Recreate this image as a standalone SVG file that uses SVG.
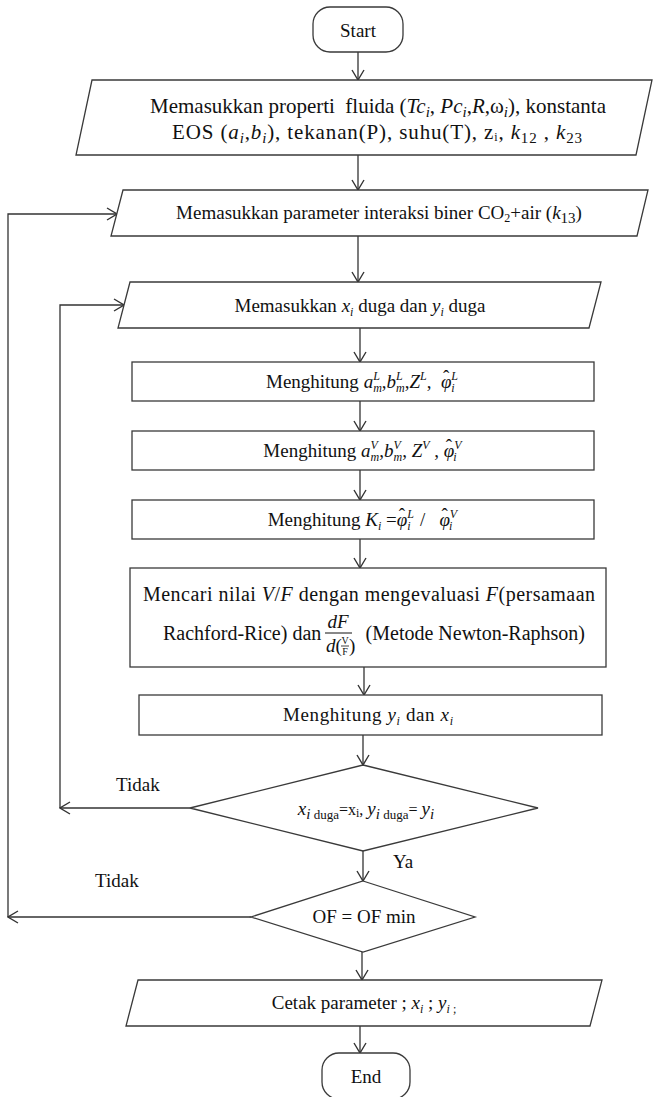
<svg xmlns="http://www.w3.org/2000/svg" width="653" height="1097" viewBox="0 0 653 1097">
<style>
.sh{fill:#fff;stroke:#3a3a3a;stroke-width:1.3}
.ln{fill:none;stroke:#333;stroke-width:1.3}
.t{font-family:"Liberation Serif","Times New Roman",serif;font-size:19px;fill:#111}
.i{font-style:italic}
.s{font-size:12px}
.sm{font-size:15px}
.xs{font-size:10px}
.f20{font-size:20px}
.f21{font-size:21px}
</style>
<defs>
<marker id="ah" markerUnits="userSpaceOnUse" markerWidth="12" markerHeight="14" viewBox="0 0 12 14" refX="11" refY="7" orient="auto">
<path d="M1,1 L11,7 L1,13" fill="none" stroke="#333" stroke-width="1.4"/>
</marker>
</defs>
<rect width="653" height="1097" fill="#fff"/>

<g id="connectors">
<line class="ln" x1="358" y1="52" x2="358" y2="80" marker-end="url(#ah)"/>
<line class="ln" x1="358" y1="155" x2="358" y2="190" marker-end="url(#ah)"/>
<line class="ln" x1="358" y1="236" x2="358" y2="282" marker-end="url(#ah)"/>
<line class="ln" x1="360" y1="328" x2="360" y2="362" marker-end="url(#ah)"/>
<line class="ln" x1="360" y1="401" x2="360" y2="431" marker-end="url(#ah)"/>
<line class="ln" x1="360" y1="470" x2="360" y2="500" marker-end="url(#ah)"/>
<line class="ln" x1="360" y1="539" x2="360" y2="568" marker-end="url(#ah)"/>
<line class="ln" x1="364" y1="667" x2="364" y2="695" marker-end="url(#ah)"/>
<line class="ln" x1="363" y1="735" x2="363" y2="765" marker-end="url(#ah)"/>
<line class="ln" x1="363" y1="851" x2="363" y2="881" marker-end="url(#ah)"/>
<line class="ln" x1="362" y1="952" x2="362" y2="980" marker-end="url(#ah)"/>
<line class="ln" x1="360" y1="1026" x2="360" y2="1053" marker-end="url(#ah)"/>
<polyline class="ln" points="190,808 60,808" marker-end="url(#ah)"/>
<polyline class="ln" points="60,808 60,305 124,305" marker-end="url(#ah)"/>
<polyline class="ln" points="251,917 8,917" marker-end="url(#ah)"/>
<polyline class="ln" points="8,917 8,214 117,214" marker-end="url(#ah)"/>
</g>

<g id="start">
<rect class="sh" x="313" y="7" width="90" height="45" rx="17"/>
<text class="t" x="358" y="37" text-anchor="middle">Start</text>
</g>

<g id="input1">
<polygon class="sh" points="92,80 652,80 636,155 76,155"/>
<text class="t f21" x="378" y="113" text-anchor="middle">Memasukkan properti&#160; fluida (<tspan class="i">Tc</tspan><tspan class="sm i" dy="4">i</tspan><tspan dy="-4">, </tspan><tspan class="i">Pc</tspan><tspan class="sm i" dy="4">i</tspan><tspan dy="-4">,</tspan><tspan class="i">R</tspan><tspan>,ω</tspan><tspan class="sm i" dy="4">i</tspan><tspan dy="-4">), konstanta</tspan></text>
<text class="t f21" x="377" y="139" text-anchor="middle" textLength="410" lengthAdjust="spacing">EOS (<tspan class="i">a</tspan><tspan class="sm i" dy="4">i</tspan><tspan dy="-4">,</tspan><tspan class="i">b</tspan><tspan class="sm i" dy="4">i</tspan><tspan dy="-4">), tekanan(P), suhu(T), z</tspan><tspan class="s" dy="2">i</tspan><tspan dy="-2">, </tspan><tspan class="i">k</tspan><tspan class="sm" dy="4">12</tspan><tspan dy="-4"> , </tspan><tspan class="i">k</tspan><tspan class="sm" dy="4">23</tspan></text>
</g>

<g id="input2">
<polygon class="sh" points="123,190 648,190 637,236 111,236"/>
<text class="t" x="379" y="219" text-anchor="middle" font-size="18">Memasukkan parameter interaksi biner CO<tspan class="s" dy="3">2</tspan><tspan dy="-3">+air (</tspan><tspan class="i">k</tspan><tspan class="sm" dy="4">13</tspan><tspan dy="-4">)</tspan></text>
</g>

<g id="input3">
<polygon class="sh" points="130,282 601,282 589,328 118,328"/>
<text class="t" x="360" y="312" text-anchor="middle" font-size="18">Memasukkan <tspan class="i">x</tspan><tspan class="s i" dy="4">i</tspan><tspan dy="-4"> duga dan </tspan><tspan class="i">y</tspan><tspan class="s i" dy="4">i</tspan><tspan dy="-4"> duga</tspan></text>
</g>

<g id="calc-liquid">
<rect class="sh" x="132" y="362" width="462" height="39"/>
<text class="t" x="362" y="388" text-anchor="middle">Menghitung <tspan class="i">a</tspan><tspan class="s i" dy="-8">L</tspan><tspan class="s i" dx="-6.7" dy="12">m</tspan><tspan dy="-4">,</tspan><tspan class="i">b</tspan><tspan class="s i" dy="-8">L</tspan><tspan class="s i" dx="-6.7" dy="12">m</tspan><tspan dy="-4">,</tspan><tspan class="i">Z</tspan><tspan class="s i" dy="-8">L</tspan><tspan dy="8">,&#160; </tspan><tspan class="i">φ</tspan><tspan dx="-8.5" dy="-5">ˆ</tspan><tspan class="s i" dx="2" dy="-3">L</tspan><tspan class="s i" dx="-6.7" dy="12">i</tspan></text>
</g>

<g id="calc-vapor">
<rect class="sh" x="132" y="431" width="462" height="39"/>
<text class="t" x="362" y="457" text-anchor="middle">Menghitung <tspan class="i">a</tspan><tspan class="s i" dy="-8">V</tspan><tspan class="s i" dx="-7.3" dy="12">m</tspan><tspan dy="-4">,</tspan><tspan class="i">b</tspan><tspan class="s i" dy="-8">V</tspan><tspan class="s i" dx="-7.3" dy="12">m</tspan><tspan dy="-4">, </tspan><tspan class="i">Z</tspan><tspan class="s i" dy="-8">V</tspan><tspan dy="8"> , </tspan><tspan class="i">φ</tspan><tspan dx="-8.5" dy="-5">ˆ</tspan><tspan class="s i" dx="2" dy="-3">V</tspan><tspan class="s i" dx="-7.3" dy="12">i</tspan></text>
</g>

<g id="calc-k">
<rect class="sh" x="132" y="500" width="462" height="39"/>
<text class="t" x="362" y="526" text-anchor="middle">Menghitung <tspan class="i">K</tspan><tspan class="s i" dy="4">i</tspan><tspan dy="-4"> =</tspan><tspan class="i">φ</tspan><tspan dx="-8.5" dy="-5">ˆ</tspan><tspan class="s i" dx="2" dy="-3">L</tspan><tspan class="s i" dx="-6.7" dy="12">i</tspan><tspan dy="-4">&#160; /&#160;&#160; </tspan><tspan class="i">φ</tspan><tspan dx="-8.5" dy="-5">ˆ</tspan><tspan class="s i" dx="2" dy="-3">V</tspan><tspan class="s i" dx="-7.3" dy="12">i</tspan></text>
</g>

<g id="rachford-rice">
<rect class="sh" x="130" y="568" width="476" height="99"/>
<text class="t f20" x="369" y="601" text-anchor="middle" textLength="452" lengthAdjust="spacing">Mencari nilai <tspan class="i">V</tspan>/<tspan class="i">F</tspan> dengan mengevaluasi <tspan class="i">F</tspan>(persamaan</text>
<text class="t f20" x="163" y="640">Rachford-Rice) dan</text>
<text class="t i" x="338" y="628" text-anchor="middle" font-size="17">dF</text>
<line x1="325" y1="633" x2="352" y2="633" stroke="#111" stroke-width="1"/>
<text class="t" x="326" y="652" font-size="17"><tspan class="i">d</tspan>(</text>
<text class="t xs" x="345" y="644" text-anchor="middle">V</text>
<line x1="341" y1="646" x2="349" y2="646" stroke="#111" stroke-width="0.8"/>
<text class="t xs" x="345" y="655" text-anchor="middle">F</text>
<text class="t" x="349" y="652" font-size="17">)</text>
<text class="t f20" x="585" y="640" text-anchor="end">(Metode Newton-Raphson)</text>
</g>

<g id="calc-xy">
<rect class="sh" x="139" y="695" width="463" height="40"/>
<text class="t" x="368" y="721" text-anchor="middle" textLength="170" lengthAdjust="spacing">Menghitung <tspan class="i">y</tspan><tspan class="s i" dy="4">i</tspan><tspan dy="-4"> dan </tspan><tspan class="i">x</tspan><tspan class="s i" dy="4">i</tspan></text>
</g>

<g id="decision-xy">
<polygon class="sh" points="363,765 538,808 363,851 190,808"/>
<text class="t" x="366" y="815" text-anchor="middle" font-size="22"><tspan class="i">x</tspan><tspan class="i" font-size="15" dy="4">i</tspan><tspan font-size="13"> duga</tspan><tspan font-size="16" dy="-4">=x</tspan><tspan font-size="12" dy="2">i</tspan><tspan font-size="16" dy="-2">, </tspan><tspan class="i">y</tspan><tspan class="i" font-size="15" dy="4">i</tspan><tspan font-size="13"> duga</tspan><tspan font-size="16" dy="-4">= </tspan><tspan class="i">y</tspan><tspan class="i" font-size="15" dy="4">i</tspan></text>
</g>

<g id="decision-of">
<polygon class="sh" points="363,881 475,917 363,952 251,917"/>
<text class="t" x="364" y="923" text-anchor="middle" font-size="18">OF = OF min</text>
</g>

<g id="output">
<polygon class="sh" points="138,980 602,980 590,1026 126,1026"/>
<text class="t" x="364" y="1009" text-anchor="middle">Cetak parameter ; <tspan class="i">x</tspan><tspan class="s i" dy="4">i</tspan><tspan dy="-4"> ; </tspan><tspan class="i">y</tspan><tspan class="s i" dy="4">i</tspan><tspan class="s"> ;</tspan></text>
</g>

<g id="end">
<rect class="sh" x="322" y="1053" width="88" height="46" rx="17"/>
<text class="t" x="366" y="1083" text-anchor="middle">End</text>
</g>

<g id="labels">
<text class="t" x="116" y="791">Tidak</text>
<text class="t" x="393" y="868">Ya</text>
<text class="t" x="95" y="887">Tidak</text>
</g>
</svg>
